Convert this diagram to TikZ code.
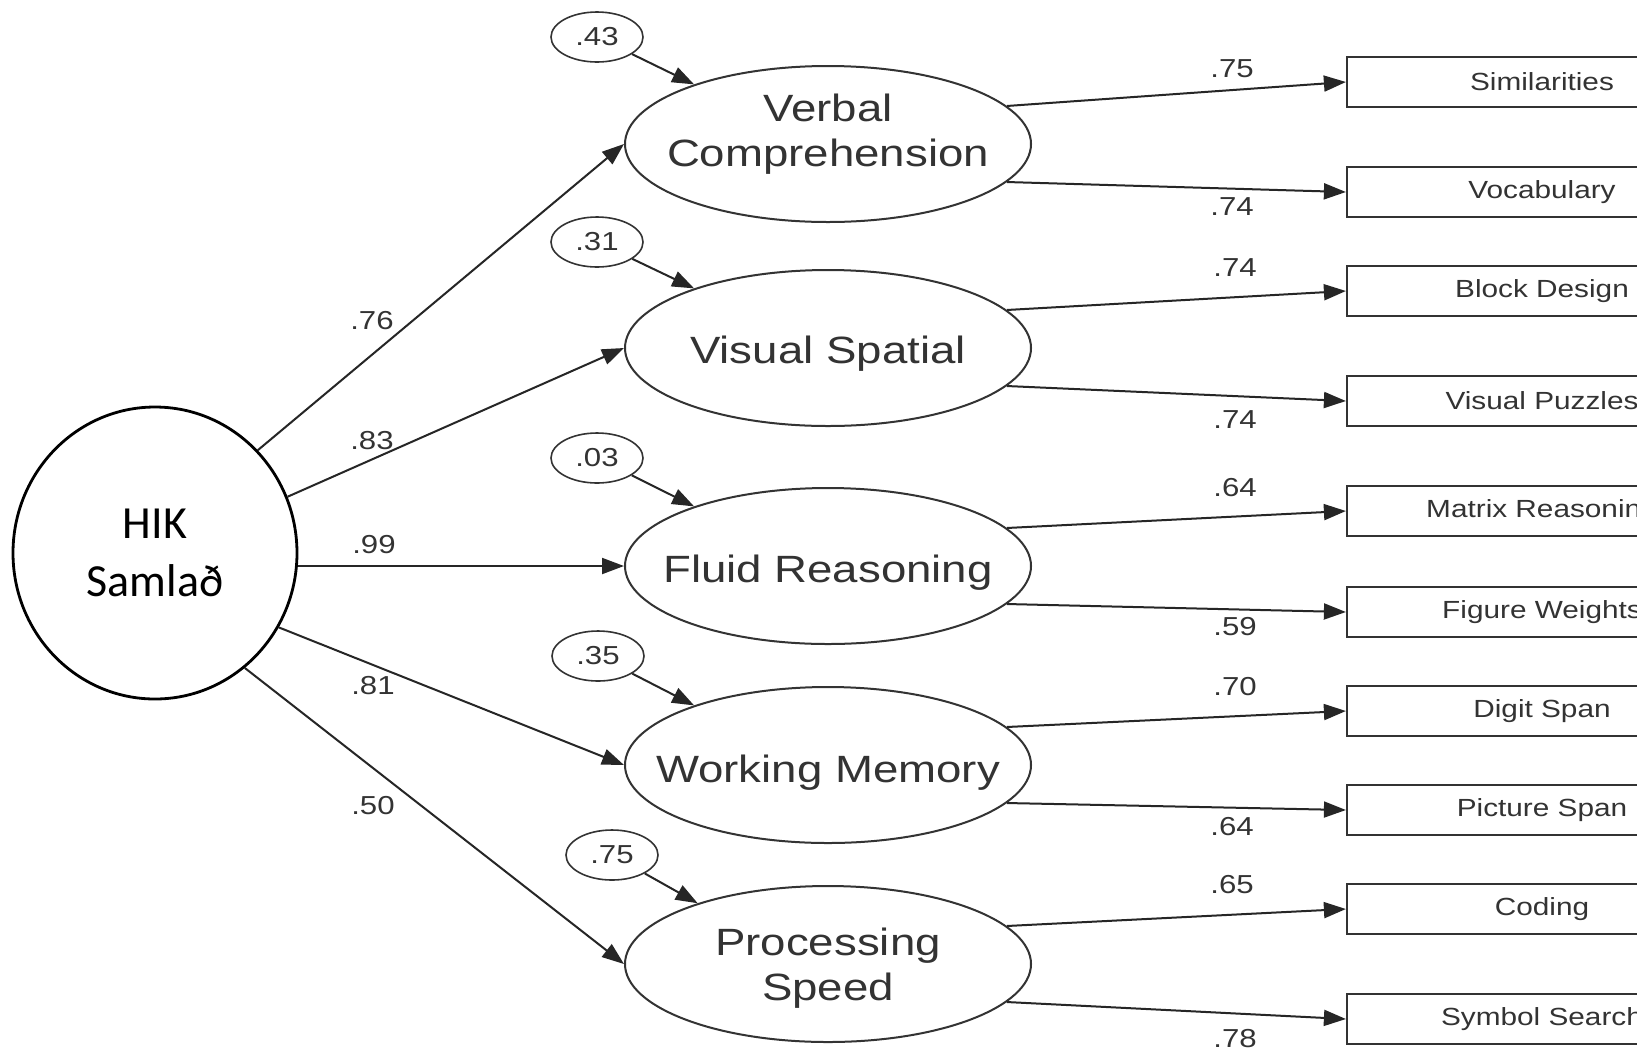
\documentclass[tikz,border=0pt]{standalone}
\usepackage{fontspec}
\newfontfamily\semfont[FakeStretch=1.2]{Liberation Sans}
\newfontfamily\hikfont{Carlito}
\usetikzlibrary{shapes.geometric,arrows.meta}
\begin{document}
\begin{tikzpicture}[x=0.5pt,y=-0.5pt,
  latent/.style={ellipse, draw=black!80, line width=1pt, minimum width=203pt, minimum height=78pt, inner sep=0pt},
  lattext/.style={inner sep=0pt, align=center, text=black!80, font=\semfont\fontsize{19}{22.5}\selectfont},
  errterm/.style={ellipse, draw=black!80, line width=0.8pt, minimum width=46pt, minimum height=25pt, inner sep=0pt, text=black!80, font=\semfont\fontsize{13}{15}\selectfont},
  obsbox/.style={rectangle, draw=black!80, line width=1.1pt, minimum width=195pt, minimum height=25pt, inner sep=0pt, text=black!80, font=\semfont\fontsize{12.4}{14}\selectfont},
  coef/.style={inner sep=0pt, text=black!80, font=\semfont\fontsize{13}{15}\selectfont},
  hikstyle/.style={ellipse, draw=black, line width=1.4pt, minimum width=142pt, minimum height=146pt, inner sep=0pt, align=center, font=\hikfont\fontsize{23}{29}\selectfont},
  link/.style={draw=black!85, line width=1pt, -{Triangle[length=11pt,width=8pt]}},
]
\useasboundingbox (0,0) rectangle (1637,1051);
\fill[white] (0,0) rectangle (1637,1051);
\clip (0,0) rectangle (1637,1051);

% general factor
\node[hikstyle] (hik) at (155,553) {HIK\\Samlað};

% latent factors
\node[latent, label={[lattext,yshift=5pt]center:{Verbal\\Comprehension}}] (vc) at (828,144) {};
\node[latent, label={[lattext,yshift=-3pt]center:{Visual Spatial}}] (vs) at (828,348) {};
\node[latent, label={[lattext,yshift=-3.5pt]center:{Fluid Reasoning}}] (fr) at (828,566) {};
\node[latent, label={[lattext,yshift=-4pt]center:{Working Memory}}] (wm) at (828,765) {};
\node[latent, label={[lattext,yshift=-2pt]center:{Processing\\Speed}}] (ps) at (828,964) {};

% error terms
\node[errterm] (e1) at (597,37) {.43};
\node[errterm] (e2) at (597,242) {.31};
\node[errterm] (e3) at (597,458) {.03};
\node[errterm] (e4) at (598,656) {.35};
\node[errterm] (e5) at (612,855) {.75};

% observed boxes
\node[obsbox] (b1) at (1542,82) {Similarities};
\node[obsbox] (b2) at (1542,192) {Vocabulary};
\node[obsbox] (b3) at (1542,291) {Block Design};
\node[obsbox] (b4) at (1542,401) {Visual Puzzles};
\node[obsbox] (b5) at (1542,511) {Matrix Reasoning};
\node[obsbox] (b6) at (1542,612) {Figure Weights};
\node[obsbox] (b7) at (1542,711) {Digit Span};
\node[obsbox] (b8) at (1542,810) {Picture Span};
\node[obsbox] (b9) at (1542,909) {Coding};
\node[obsbox] (b10) at (1542,1019) {Symbol Search};

% general -> latent
\draw[link] (hik.45) -- (vc.west);
\draw[link] (hik.23) -- (vs.west);
\draw[link] (fr.west -| hik.east) -- (fr.west);
\draw[link] (hik.-31) -- (wm.west);
\draw[link] (hik.-52) -- (ps.west);

% error -> latent
\draw[link] (e1) -- (vc.156);
\draw[link] (e2) -- (vs.156);
\draw[link] (e3) -- (fr.156);
\draw[link] (e4) -- (wm.156);
\draw[link] (e5) -- (ps.155);

% latent -> observed
\draw[link] (vc.12) -- (b1.west);
\draw[link] (vc.-12) -- (b2.west);
\draw[link] (vs.12) -- (b3.west);
\draw[link] (vs.-12) -- (b4.west);
\draw[link] (fr.12) -- (b5.west);
\draw[link] (fr.-12) -- (b6.west);
\draw[link] (wm.12) -- (b7.west);
\draw[link] (wm.-12) -- (b8.west);
\draw[link] (ps.12) -- (b9.west);
\draw[link] (ps.-12) -- (b10.west);

% coefficients
\node[coef] (c1) at (372,321) {.76};
\node[coef] (c2) at (372,441) {.83};
\node[coef] (c3) at (374,545) {.99};
\node[coef] (c4) at (373,686) {.81};
\node[coef] (c5) at (373,806) {.50};

\node[coef] (l1) at (1232,69) {.75};
\node[coef] (l2) at (1232,207) {.74};
\node[coef] (l3) at (1235,268) {.74};
\node[coef] (l4) at (1235,420) {.74};
\node[coef] (l5) at (1235,488) {.64};
\node[coef] (l6) at (1235,627) {.59};
\node[coef] (l7) at (1235,687) {.70};
\node[coef] (l8) at (1232,827) {.64};
\node[coef] (l9) at (1232,885) {.65};
\node[coef] (l10) at (1235,1039) {.78};
\end{tikzpicture}
\end{document}
